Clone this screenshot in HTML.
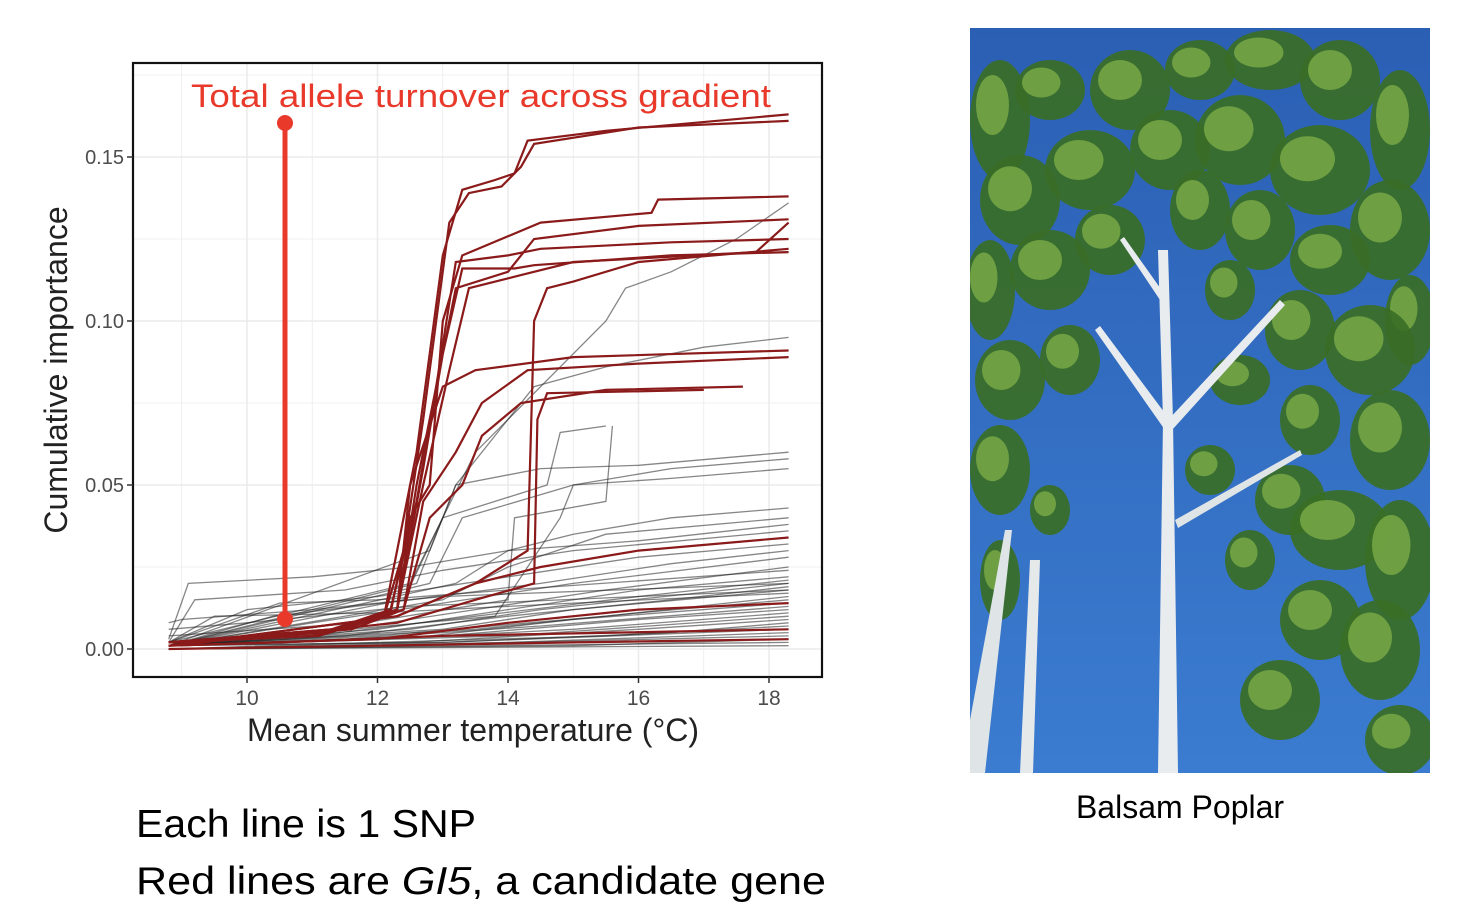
<!DOCTYPE html>
<html><head><meta charset="utf-8"><style>
html,body{margin:0;padding:0;background:#fff;width:1464px;height:910px;overflow:hidden;font-family:"Liberation Sans",sans-serif}
svg{position:absolute;left:0;top:0}
</style></head><body>
<svg id="chart" width="1464" height="910" xmlns="http://www.w3.org/2000/svg">
  <g id="grid"></g>
  <g id="blackLines"></g>
  <g id="redLines"></g>
  <rect x="133" y="63" width="689" height="614" fill="none" stroke="#111" stroke-width="2.2"/>
  <g id="axes"></g>
  <text x="473" y="741" text-anchor="middle" font-size="32" fill="#222">Mean summer temperature (°C)</text>
  <text transform="translate(67,370) rotate(-90)" text-anchor="middle" font-size="32" fill="#222">Cumulative importance</text>
  <line x1="285" y1="123" x2="285" y2="619" stroke="#e8392b" stroke-width="5"/>
  <circle cx="285" cy="123" r="8" fill="#e8392b"/>
  <circle cx="285" cy="619" r="8" fill="#e8392b"/>
  <text x="191" y="107" font-size="32" fill="#e8392b" textLength="580" lengthAdjust="spacingAndGlyphs">Total allele turnover across gradient</text>
  <text x="136" y="837" font-size="39" fill="#000" textLength="340" lengthAdjust="spacingAndGlyphs">Each line is 1 SNP</text>
  <text x="136" y="894" font-size="39" fill="#000" textLength="690" lengthAdjust="spacingAndGlyphs">Red lines are <tspan font-style="italic">GI5</tspan>, a candidate gene</text>
  <g>
    <defs><linearGradient id="sky" x1="0" y1="0" x2="0" y2="1"><stop offset="0" stop-color="#2b5fb4"/><stop offset="1" stop-color="#3b7cd0"/></linearGradient>
    <clipPath id="pc"><rect x="970" y="28" width="460" height="745"/></clipPath></defs>
    <g clip-path="url(#pc)" id="photo">
      <rect x="970" y="28" width="460" height="745" fill="url(#sky)"/>
    </g>
  </g>
  <text x="1180" y="818" text-anchor="middle" font-size="32" fill="#000">Balsam Poplar</text>
</svg>
<script>
const NS="http://www.w3.org/2000/svg";
const xTicks=[10,12,14,16,18];
const yTicks=[0,0.05,0.10,0.15];
const yTickLabels=["0.00","0.05","0.10","0.15"];
const redSeries=[
[8.8,.002,11.0,.004,12.1,.010,12.3,.030,12.6,.060,12.8,.090,13.0,.120,13.3,.140,13.8,.143,14.1,.145,14.3,.155,15.5,.158,18.3,.163],
[8.8,.002,11.1,.004,12.1,.010,12.4,.030,12.7,.070,12.9,.100,13.1,.130,13.4,.139,13.9,.141,14.2,.147,14.4,.154,16,.159,18.3,.161],
[8.8,.002,11.2,.005,12.2,.011,12.5,.040,12.8,.050,13.0,.100,13.3,.120,14.5,.130,16.2,.133,16.3,.137,18.3,.138],
[8.8,.002,11.3,.006,12.2,.012,12.6,.045,12.9,.080,13.2,.110,14.0,.115,14.4,.125,16.0,.129,18.3,.131],
[8.8,.002,11.3,.006,12.3,.012,12.6,.050,12.9,.080,13.2,.118,14.0,.120,14.5,.122,16.5,.124,18.3,.125],
[8.8,.002,11.4,.006,12.3,.012,12.7,.055,13.0,.090,13.3,.116,14.1,.116,14.4,.117,16.5,.120,18.3,.121],
[8.8,.002,11.4,.006,12.3,.012,12.7,.050,13.1,.085,13.4,.110,14.2,.114,15.0,.118,17.8,.121,18.3,.130],
[8.8,.001,12.3,.010,13.5,.020,14.3,.030,14.4,.100,14.6,.110,15.0,.112,16.0,.118,18.3,.122],
[8.8,.002,11.5,.006,12.3,.012,12.5,.050,13.0,.080,13.5,.085,15.0,.089,18.3,.091],
[8.8,.002,11.6,.006,12.4,.012,12.7,.045,13.2,.060,13.6,.075,14.3,.085,16,.087,18.3,.089],
[8.8,.002,11.6,.006,12.4,.012,12.8,.040,13.3,.050,13.6,.065,14.2,.075,15.5,.079,17.6,.080],
[8.8,.001,12.3,.008,13.5,.015,14.4,.020,14.45,.070,14.6,.078,17.0,.079],
[8.8,.001,12.3,.010,13.5,.020,14.5,.025,16.0,.030,18.3,.034],
[8.8,.001,12.0,.003,14.0,.008,16.0,.012,18.3,.014],
[8.8,.000,12.0,.001,15.0,.002,18.3,.003],
[8.8,.001,10.5,.002,13.0,.004,18.3,.006]
];
const blackSeries=[
[8.8,.002,12.5,.020,13.5,.060,15.5,.100,15.8,.110,16.5,.115,17.5,.125,18.3,.136],
[8.8,.001,12.8,.030,13.2,.050,14.4,.080,15.5,.086,17.0,.092,18.3,.095],
[8.8,.001,12.6,.020,13.2,.050,14.5,.055,16.0,.056,18.3,.060],
[8.8,.001,12.8,.020,13.3,.040,15.0,.050,16.5,.055,18.3,.058],
[8.8,.001,12.4,.015,13.0,.040,14.6,.050,14.8,.066,15.5,.068],
[8.8,.001,13.2,.020,14.0,.030,15.0,.035,16.5,.040,18.3,.043],
[8.8,.001,13.0,.015,14.0,.025,15.5,.035,18.3,.040],
[8.8,.003,9.1,.020,11.0,.022,12.5,.025,14.0,.030,16.0,.033,18.3,.038],
[8.8,.002,9.2,.015,11.5,.018,13.0,.024,15.0,.030,18.3,.036],
[8.8,.002,10.0,.012,12.0,.016,14.0,.022,16.0,.028,18.3,.032],
[8.8,.001,10.4,.010,12.5,.015,14.5,.020,16.5,.026,18.3,.030],
[8.8,.001,11.0,.008,13.0,.014,15.0,.020,18.3,.028],
[8.8,.001,11.5,.006,13.5,.012,15.5,.018,18.3,.025],
[8.8,.002,10.5,.014,12.0,.015,14.0,.018,18.3,.024],
[8.8,.001,12.0,.006,14.0,.012,16.0,.018,18.3,.022],
[8.8,.001,11.0,.004,13.5,.010,16.0,.016,18.3,.021],
[8.8,.001,12.5,.006,14.5,.012,18.3,.020],
[8.8,.001,11.5,.004,14.0,.010,16.5,.015,18.3,.019],
[8.8,.001,13.0,.006,15.0,.012,18.3,.018],
[8.8,.002,9.5,.010,12.0,.011,15.0,.014,18.3,.017],
[8.8,.001,12.0,.004,15.5,.010,18.3,.016],
[8.8,.001,13.5,.006,16.0,.011,18.3,.015],
[8.8,.001,12.8,.004,15.0,.009,18.3,.014],
[8.8,.001,11.5,.003,14.5,.007,18.3,.013],
[8.8,.001,13.0,.004,16.0,.009,18.3,.012],
[8.8,.001,12.0,.003,15.0,.006,18.3,.011],
[8.8,.001,14.0,.004,18.3,.010],
[8.8,.001,12.5,.002,16.0,.006,18.3,.009],
[8.8,.001,13.0,.002,16.5,.005,18.3,.008],
[8.8,.000,12.0,.002,15.5,.004,18.3,.007],
[8.8,.000,13.0,.002,18.3,.006],
[8.8,.000,14.0,.002,18.3,.005],
[8.8,.000,12.0,.001,18.3,.004],
[8.8,.000,15.0,.001,18.3,.003],
[8.8,.000,18.3,.002],
[8.8,.000,18.3,.001],
[8.8,.008,9.0,.009,11.0,.012,13.0,.016,18.3,.020],
[8.8,.006,10.0,.008,12.5,.013,18.3,.018],
[8.8,.004,11.8,.008,14.0,.015,14.1,.040,15.5,.045,15.6,.068],
[8.8,.001,13.8,.010,14.8,.040,15.0,.050,16.5,.052,18.3,.055]
];
const X=v=>247+(v-10)*65.25;
const Y=v=>649-v*3280;
const grid=document.getElementById('grid');
function ln(p,x1,y1,x2,y2,c,w){const l=document.createElementNS(NS,'line');l.setAttribute('x1',x1);l.setAttribute('y1',y1);l.setAttribute('x2',x2);l.setAttribute('y2',y2);l.setAttribute('stroke',c);l.setAttribute('stroke-width',w);p.appendChild(l);return l;}
for(let t=9;t<=18;t++){const l=ln(grid,X(t),64,X(t),676,'#ebebeb',t%2?0.8:1.5);

}
for(let k=0;k<=7;k++){const v=k*0.025;const l=ln(grid,134,Y(v),821,Y(v),'#ebebeb',k%2?0.8:1.5);

}
const axes=document.getElementById('axes');
xTicks.forEach(t=>{const l=ln(axes,X(t),677,X(t),683,'#333',1.5);


const tx=document.createElementNS(NS,'text');tx.setAttribute('x',X(t));tx.setAttribute('y',705);tx.setAttribute('text-anchor','middle');tx.setAttribute('font-size','21');tx.setAttribute('fill','#4d4d4d');tx.textContent=t;


axes.appendChild(tx);});
yTicks.forEach((v,i)=>{const l=ln(axes,127,Y(v),133,Y(v),'#333',1.5);


const tx=document.createElementNS(NS,'text');tx.setAttribute('x',124);tx.setAttribute('y',Y(v)+7);tx.setAttribute('text-anchor','end');tx.setAttribute('font-size','20');tx.setAttribute('fill','#4d4d4d');tx.textContent=yTickLabels[i];


axes.appendChild(tx);});
function draw(g,arr,col,w,op,name){arr.forEach(s=>{let pts=[];for(let i=0;i<s.length;i+=2)pts.push(X(s[i]).toFixed(1)+','+Y(s[i+1]).toFixed(1));
const p=document.createElementNS(NS,'polyline');p.setAttribute('points',pts.join(' '));p.setAttribute('fill','none');p.setAttribute('stroke',col);p.setAttribute('stroke-width',w);p.setAttribute('stroke-opacity',op);


g.appendChild(p);});}
draw(document.getElementById('blackLines'),blackSeries,'#222',1.3,0.55,'black-snp-line');
draw(document.getElementById('redLines'),redSeries,'#8b1a1a',2.2,1,'red-gi5-line');
const ph=document.getElementById('photo');
function el(tag,a){const e=document.createElementNS(NS,tag);for(const k in a)e.setAttribute(k,a[k]);ph.appendChild(e);return e;}
const blobs=[[1000,120,30,60],[1050,90,35,30],[1130,90,40,40],[1200,70,35,30],[1270,60,45,30],[1340,80,40,40],[1400,130,30,60],
[1020,200,40,45],[1090,170,45,40],[1170,150,40,40],[1240,140,45,45],[1320,170,50,45],[1390,230,40,50],
[990,290,25,50],[1050,270,40,40],[1110,240,35,35],[1200,210,30,40],[1260,230,35,40],[1330,260,40,35],[1410,320,25,45],
[1010,380,35,40],[1070,360,30,35],[1230,290,25,30],[1300,330,35,40],[1370,350,45,45],
[1000,470,30,45],[1240,380,30,25],[1310,420,30,35],[1390,440,40,50],[1290,500,35,35],
[1340,530,50,40],[1400,560,35,60],[1250,560,25,30],[1320,620,40,40],[1380,650,40,50],[1280,700,40,40],[1400,740,35,35],[1000,580,20,40],[1050,510,20,25],[1210,470,25,25]];
blobs.forEach(b=>{el('ellipse',{cx:b[0],cy:b[1],rx:b[2],ry:b[3],fill:'#3a6e26',opacity:0.92});el('ellipse',{cx:b[0]-b[2]*0.25,cy:b[1]-b[3]*0.25,rx:b[2]*0.55,ry:b[3]*0.5,fill:'#78a845',opacity:0.85});});
el('path',{d:'M1158 773 L1163 420 L1158 250 L1168 250 L1173 420 L1178 773 Z',fill:'#e8ecee'});
el('path',{d:'M970 720 L1005 530 L1012 530 L985 773 L970 773 Z',fill:'#dfe4e6'});
el('path',{d:'M1020 773 L1030 560 L1040 560 L1033 773 Z',fill:'#e6e9ea'});
el('path',{d:'M1165 430 L1095 330 L1100 326 L1170 420 Z',fill:'#e8ecee'});
el('path',{d:'M1168 420 L1280 300 L1285 305 L1172 430 Z',fill:'#e8ecee'});
el('path',{d:'M1175 520 L1300 450 L1302 455 L1178 528 Z',fill:'#dfe4e6'});
el('path',{d:'M1160 300 L1120 240 L1124 237 L1163 292 Z',fill:'#e8ecee'});
</script>
</body></html>
